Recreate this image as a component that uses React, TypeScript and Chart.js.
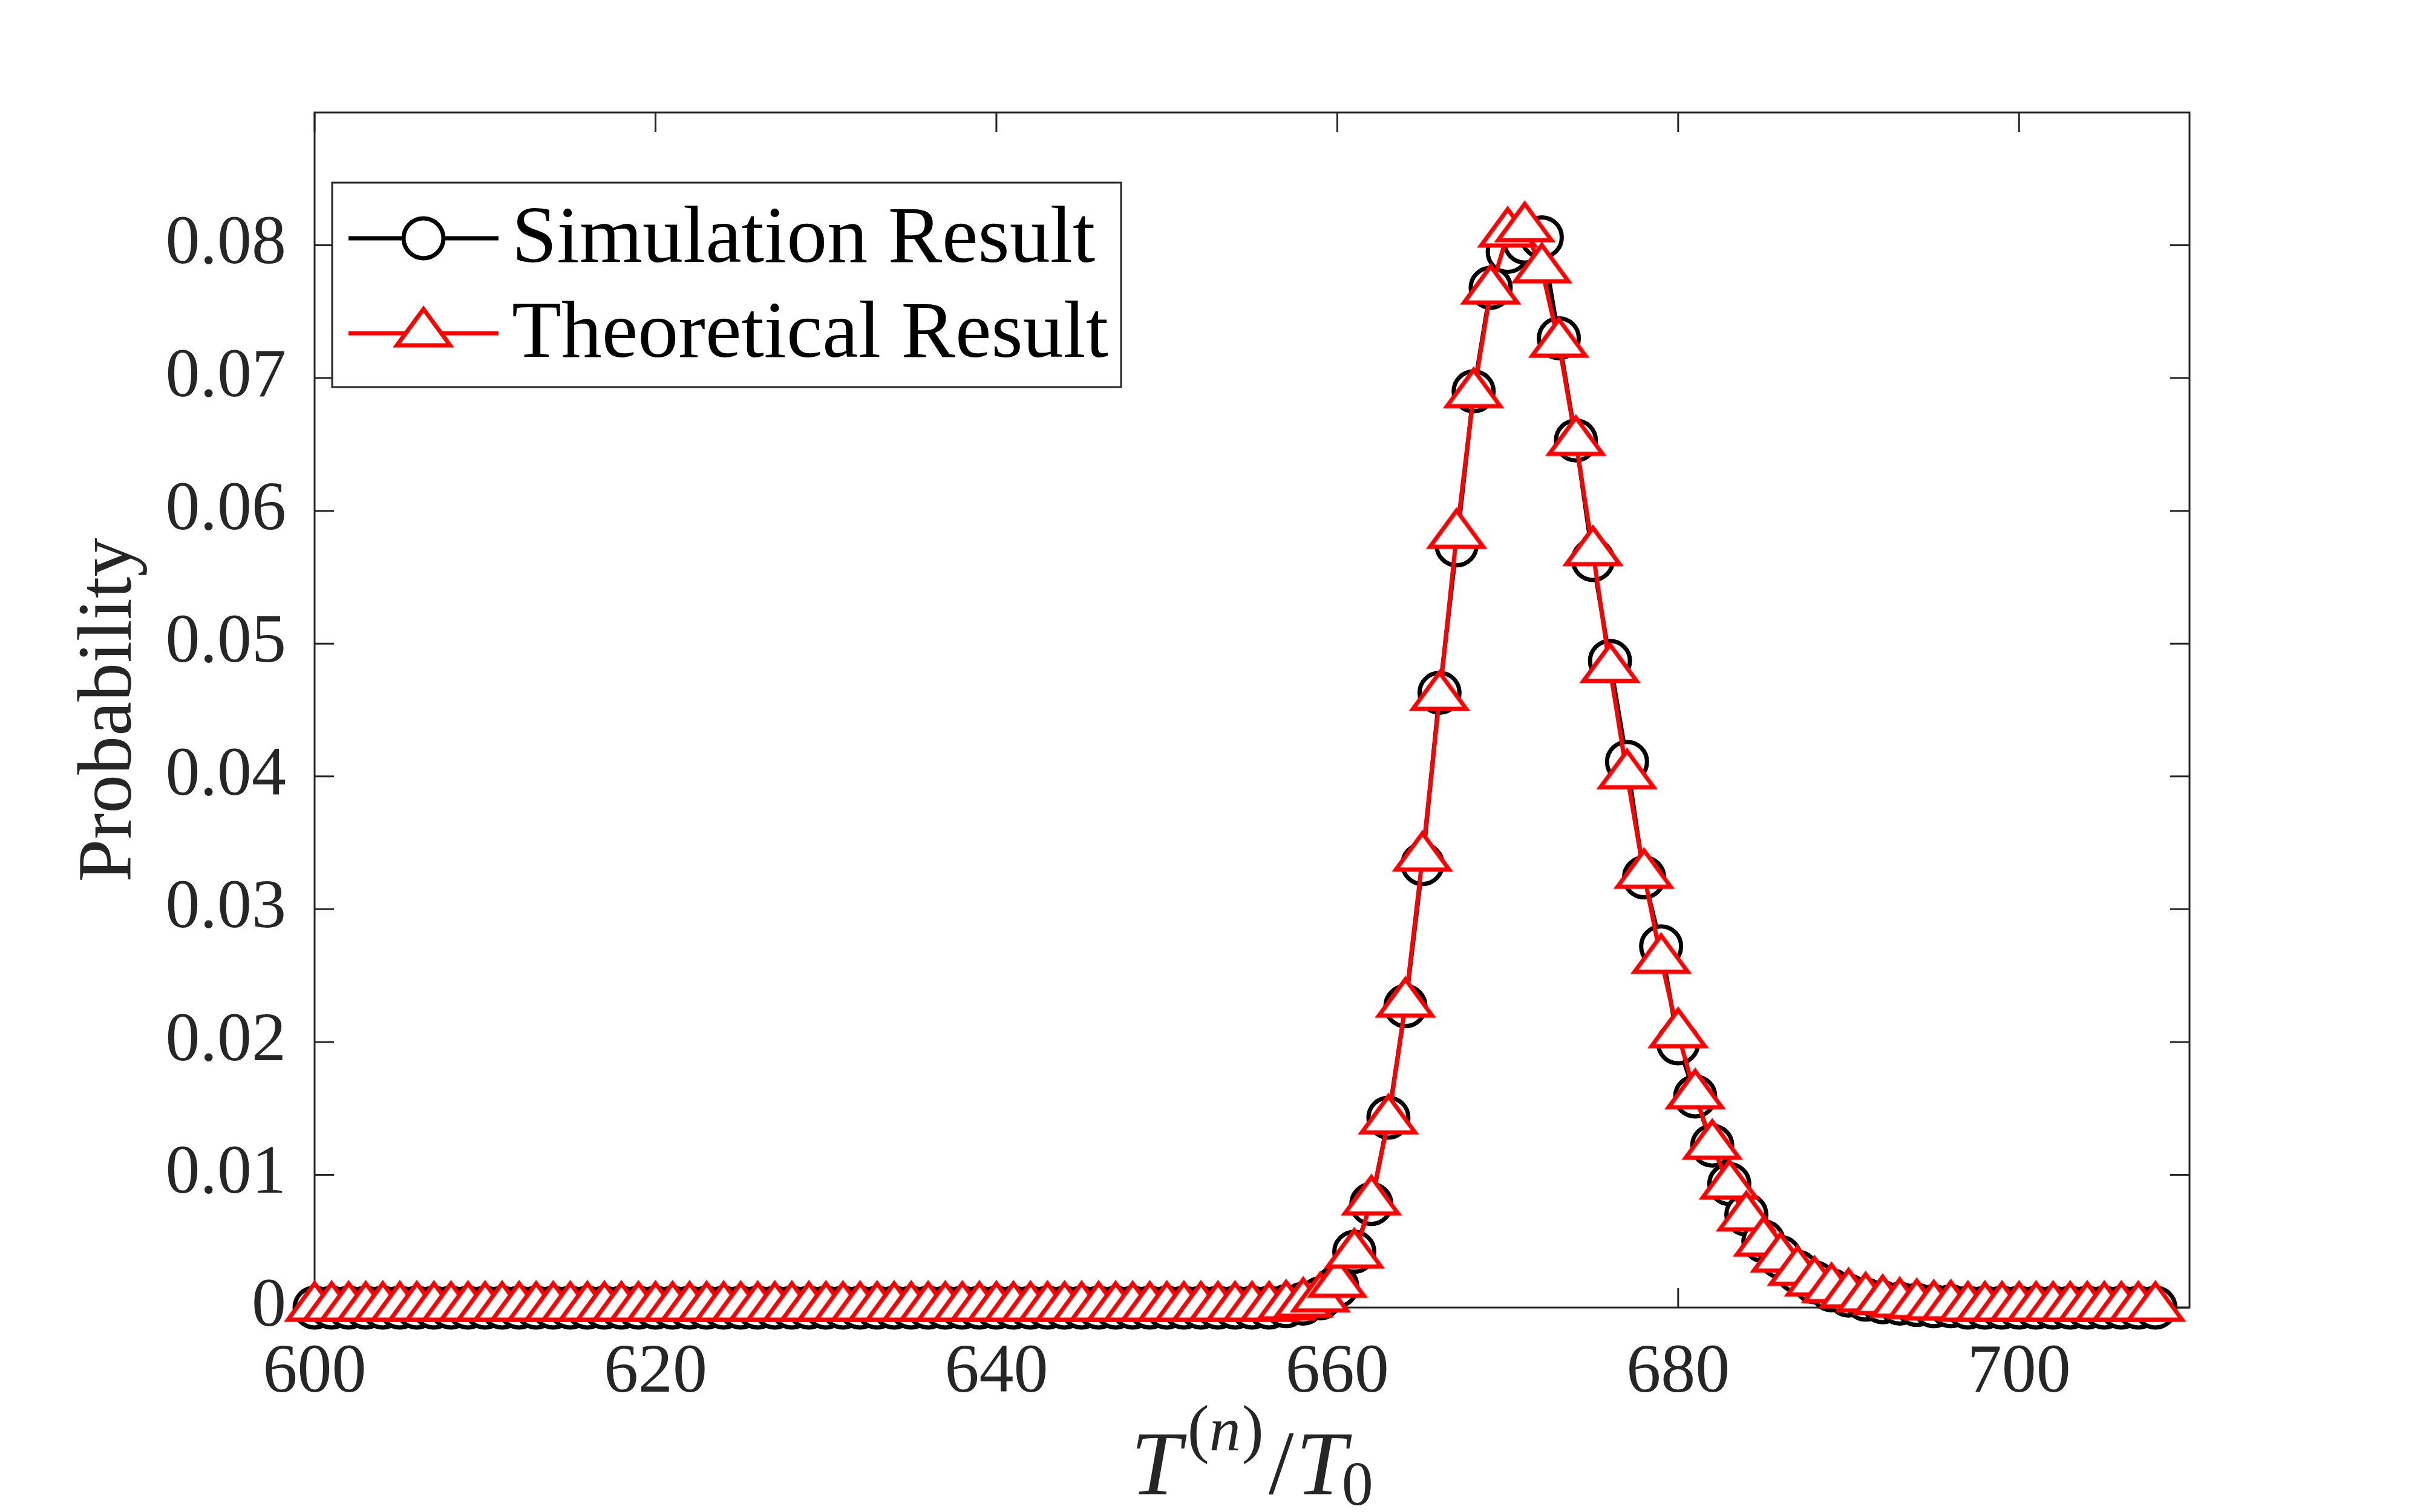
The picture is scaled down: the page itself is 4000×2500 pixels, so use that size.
import { useEffect, useRef } from "react"
import { Chart, registerables } from "chart.js"

Chart.register(...registerables)

// T^(n)/T0 sample points
const tValues = [
  600, 601, 602, 603, 604, 605, 606, 607, 608, 609,
  610, 611, 612, 613, 614, 615, 616, 617, 618, 619,
  620, 621, 622, 623, 624, 625, 626, 627, 628, 629,
  630, 631, 632, 633, 634, 635, 636, 637, 638, 639,
  640, 641, 642, 643, 644, 645, 646, 647, 648, 649,
  650, 651, 652, 653, 654, 655, 656, 657, 658, 659,
  660, 661, 662, 663, 664, 665, 666, 667, 668, 669,
  670, 671, 672, 673, 674, 675, 676, 677, 678, 679,
  680, 681, 682, 683, 684, 685, 686, 687, 688, 689,
  690, 691, 692, 693, 694, 695, 696, 697, 698, 699,
  700, 701, 702, 703, 704, 705, 706, 707, 708,
]

const simulationValues = [
  0, 0, 0, 0, 0, 0, 0, 0, 0, 0,
  0, 0, 0, 0, 0, 0, 0, 0, 0, 0,
  0, 0, 0, 0, 0, 0, 0, 0, 0, 0,
  0, 0, 0, 0, 0, 0, 0, 0, 0, 0,
  0, 0, 0, 0, 0, 0, 0, 0, 0, 0,
  0, 0, 0, 0, 0, 0, 0, 0.0001, 0.0003, 0.0007,
  0.0016, 0.0042, 0.0078, 0.0143, 0.0227, 0.0334, 0.0463, 0.0574, 0.069, 0.0768,
  0.0795, 0.0802, 0.0806, 0.073, 0.0653, 0.0563, 0.0487, 0.0411, 0.0324, 0.0272,
  0.0199, 0.0159, 0.0122, 0.0093, 0.007, 0.005, 0.0038, 0.0027, 0.0019, 0.0013,
  0.0009, 0.0006, 0.0004, 0.0003, 0.0002, 0.0001, 0.0001, 0, 0, 0,
  0, 0, 0, 0, 0, 0, 0, 0, 0,
]

const theoreticalValues = [
  0, 0, 0, 0, 0, 0, 0, 0, 0, 0,
  0, 0, 0, 0, 0, 0, 0, 0, 0, 0,
  0, 0, 0, 0, 0, 0, 0, 0, 0, 0,
  0, 0, 0, 0, 0, 0, 0, 0, 0, 0,
  0, 0, 0, 0, 0, 0, 0, 0, 0, 0,
  0, 0, 0, 0, 0, 0, 0, 0.0001, 0.0003, 0.0007,
  0.0018, 0.004, 0.008, 0.0141, 0.0229, 0.0339, 0.046, 0.0582, 0.0688, 0.0766,
  0.0809, 0.0813, 0.0782, 0.0726, 0.0652, 0.0569, 0.0481, 0.0401, 0.0326, 0.0262,
  0.0206, 0.016, 0.0122, 0.0092, 0.0068, 0.0049, 0.0037, 0.0027, 0.0019, 0.0014,
  0.001, 0.0007, 0.0005, 0.0003, 0.0002, 0.0001, 0.0001, 0, 0, 0,
  0, 0, 0, 0, 0, 0, 0, 0, 0,
]

const xTicks = [600, 620, 640, 660, 680, 700]
const yTicks = [0, 0.01, 0.02, 0.03, 0.04, 0.05, 0.06, 0.07, 0.08]
const yTickLabels = ["0", "0.01", "0.02", "0.03", "0.04", "0.05", "0.06", "0.07", "0.08"]

const seriesLabels = ["Simulation Result", "Theoretical Result"]

const AXIS_COLOR = "#262626"
const SERIF = "'Liberation Serif', 'Times New Roman', serif"

// matlab style '^' marker, centroid sits in the middle of the image
function makeTriangle(): HTMLCanvasElement {
  const c = document.createElement("canvas")
  c.width = 120
  c.height = 96
  const g = c.getContext("2d")
  if (g) {
    g.lineWidth = 7
    g.lineJoin = "miter"
    g.strokeStyle = "#ff0000"
    g.fillStyle = "#ffffff"
    g.beginPath()
    g.moveTo(60, 8)
    g.lineTo(104, 68)
    g.lineTo(16, 68)
    g.closePath()
    g.fill()
    g.stroke()
  }
  return c
}

export default function App() {
  const chartRef = useRef<HTMLCanvasElement>(null)
  const chartInstance = useRef<Chart | null>(null)

  useEffect(() => {
    if (!chartRef.current) return
    const ctx = chartRef.current.getContext("2d")
    if (!ctx) return

    if (chartInstance.current) {
      chartInstance.current.destroy()
    }

    const triangle = makeTriangle()

    const framePlugin = {
      id: "frame",
      beforeDatasetsDraw(chart: any) {
        const { ctx: c, chartArea: a, scales } = chart
        c.save()
        c.strokeStyle = AXIS_COLOR
        c.lineWidth = 3
        c.strokeRect(a.left, a.top, a.right - a.left, a.bottom - a.top)
        c.beginPath()
        xTicks.forEach((v) => {
          const px = scales.x.getPixelForValue(v)
          c.moveTo(px, a.bottom)
          c.lineTo(px, a.bottom - 32)
          c.moveTo(px, a.top)
          c.lineTo(px, a.top + 32)
        })
        yTicks.forEach((v) => {
          const py = scales.y.getPixelForValue(v)
          c.moveTo(a.left, py)
          c.lineTo(a.left + 32, py)
          c.moveTo(a.right, py)
          c.lineTo(a.right - 32, py)
        })
        c.stroke()
        c.restore()
      },
    }

    const decorPlugin = {
      id: "decor",
      afterDraw(chart: any) {
        const { ctx: c, chartArea: a } = chart
        c.save()

        // legend box
        c.fillStyle = "#ffffff"
        c.fillRect(549, 302, 1304, 338)
        c.strokeStyle = AXIS_COLOR
        c.lineWidth = 3
        c.strokeRect(549, 302, 1304, 338)

        const rows = [394, 551]
        // simulation sample
        c.lineWidth = 7
        c.strokeStyle = "#000000"
        c.beginPath()
        c.moveTo(576, rows[0])
        c.lineTo(824, rows[0])
        c.stroke()
        c.fillStyle = "#ffffff"
        c.beginPath()
        c.arc(700, rows[0], 33, 0, Math.PI * 2)
        c.fill()
        c.stroke()
        // theoretical sample
        c.strokeStyle = "#ff0000"
        c.beginPath()
        c.moveTo(576, rows[1])
        c.lineTo(824, rows[1])
        c.stroke()
        c.drawImage(triangle, 700 - triangle.width / 2, rows[1] - triangle.height / 2)

        c.fillStyle = "#000000"
        c.font = `134px ${SERIF}`
        c.textAlign = "left"
        c.textBaseline = "middle"
        c.fillText(seriesLabels[0], 846, rows[0] + 4)
        c.fillText(seriesLabels[1], 846, rows[1] + 4)

        // y title
        c.fillStyle = AXIS_COLOR
        c.save()
        c.translate(182, (a.top + a.bottom) / 2)
        c.rotate(-Math.PI / 2)
        c.textAlign = "center"
        c.textBaseline = "middle"
        c.font = `128px ${SERIF}`
        c.fillText("Probability", 0, 0)
        c.restore()

        // x title: T^(n)/T_0
        const parts = [
          { text: "T", font: `italic 150px ${SERIF}`, dy: 0, gap: 10 },
          { text: "(", font: `108px ${SERIF}`, dy: -72, gap: 0 },
          { text: "n", font: `italic 104px ${SERIF}`, dy: -72, gap: 2 },
          { text: ")", font: `108px ${SERIF}`, dy: -72, gap: 8 },
          { text: "/", font: `150px ${SERIF}`, dy: 0, gap: 4 },
          { text: "T", font: `italic 150px ${SERIF}`, dy: 0, gap: -8 },
          { text: "0", font: `104px ${SERIF}`, dy: 18, gap: 0 },
        ]
        c.textAlign = "left"
        c.textBaseline = "alphabetic"
        let total = 0
        const widths = parts.map((p) => {
          c.font = p.font
          const w = c.measureText(p.text).width + p.gap
          total += w
          return w
        })
        let x = (a.left + a.right) / 2 - total / 2
        const base = 2470
        parts.forEach((p, i) => {
          c.font = p.font
          c.fillText(p.text, x, base + p.dy)
          x += widths[i]
        })

        c.restore()
      },
    }

    chartInstance.current = new Chart(ctx, {
      type: "line",
      data: {
        datasets: [
          {
            label: seriesLabels[0],
            data: tValues.map((t, i) => ({ x: t, y: simulationValues[i] })),
            borderColor: "#000000",
            borderWidth: 7,
            pointStyle: "circle",
            pointRadius: 33,
            pointBorderWidth: 7,
            pointBorderColor: "#000000",
            pointBackgroundColor: "#ffffff",
            clip: false,
            order: 1,
          },
          {
            label: seriesLabels[1],
            data: tValues.map((t, i) => ({ x: t, y: theoreticalValues[i] })),
            borderColor: "#ff0000",
            borderWidth: 7,
            pointStyle: triangle,
            pointRadius: 40,
            clip: false,
            order: 0,
          },
        ],
      },
      options: {
        animation: false,
        responsive: false,
        devicePixelRatio: 1,
        events: [],
        layout: { padding: { top: 186, right: 381, left: 0, bottom: 0 } },
        elements: { line: { tension: 0 } },
        plugins: {
          legend: { display: false },
          tooltip: { enabled: false },
        },
        scales: {
          x: {
            type: "linear",
            min: 600,
            max: 710,
            grid: { display: false, drawTicks: false },
            border: { display: false },
            ticks: {
              autoSkip: false,
              maxRotation: 0,
              padding: 41,
              color: AXIS_COLOR,
              font: { family: SERIF, size: 114 },
              callback: (value) => String(value),
            },
            afterBuildTicks: (scale) => {
              scale.ticks = xTicks.map((v) => ({ value: v }))
            },
            afterFit: (scale) => {
              scale.height = 338
            },
          },
          y: {
            type: "linear",
            min: 0,
            max: 0.09,
            grid: { display: false, drawTicks: false },
            border: { display: false },
            ticks: {
              autoSkip: false,
              padding: 47,
              color: AXIS_COLOR,
              font: { family: SERIF, size: 114 },
              callback: (value) => {
                const i = yTicks.indexOf(Number(value))
                return i >= 0 ? yTickLabels[i] : ""
              },
            },
            afterBuildTicks: (scale) => {
              scale.ticks = yTicks.map((v) => ({ value: v }))
            },
            afterFit: (scale) => {
              scale.width = 520
            },
          },
        },
      },
      plugins: [framePlugin, decorPlugin],
    })

    return () => {
      if (chartInstance.current) {
        chartInstance.current.destroy()
        chartInstance.current = null
      }
    }
  }, [])

  return (
    <div style={{ position: "fixed", left: 0, top: 0, width: "4000px", height: "2500px", background: "#ffffff" }}>
      <canvas ref={chartRef} width={4000} height={2500} style={{ width: "4000px", height: "2500px" }}></canvas>
    </div>
  )
}
